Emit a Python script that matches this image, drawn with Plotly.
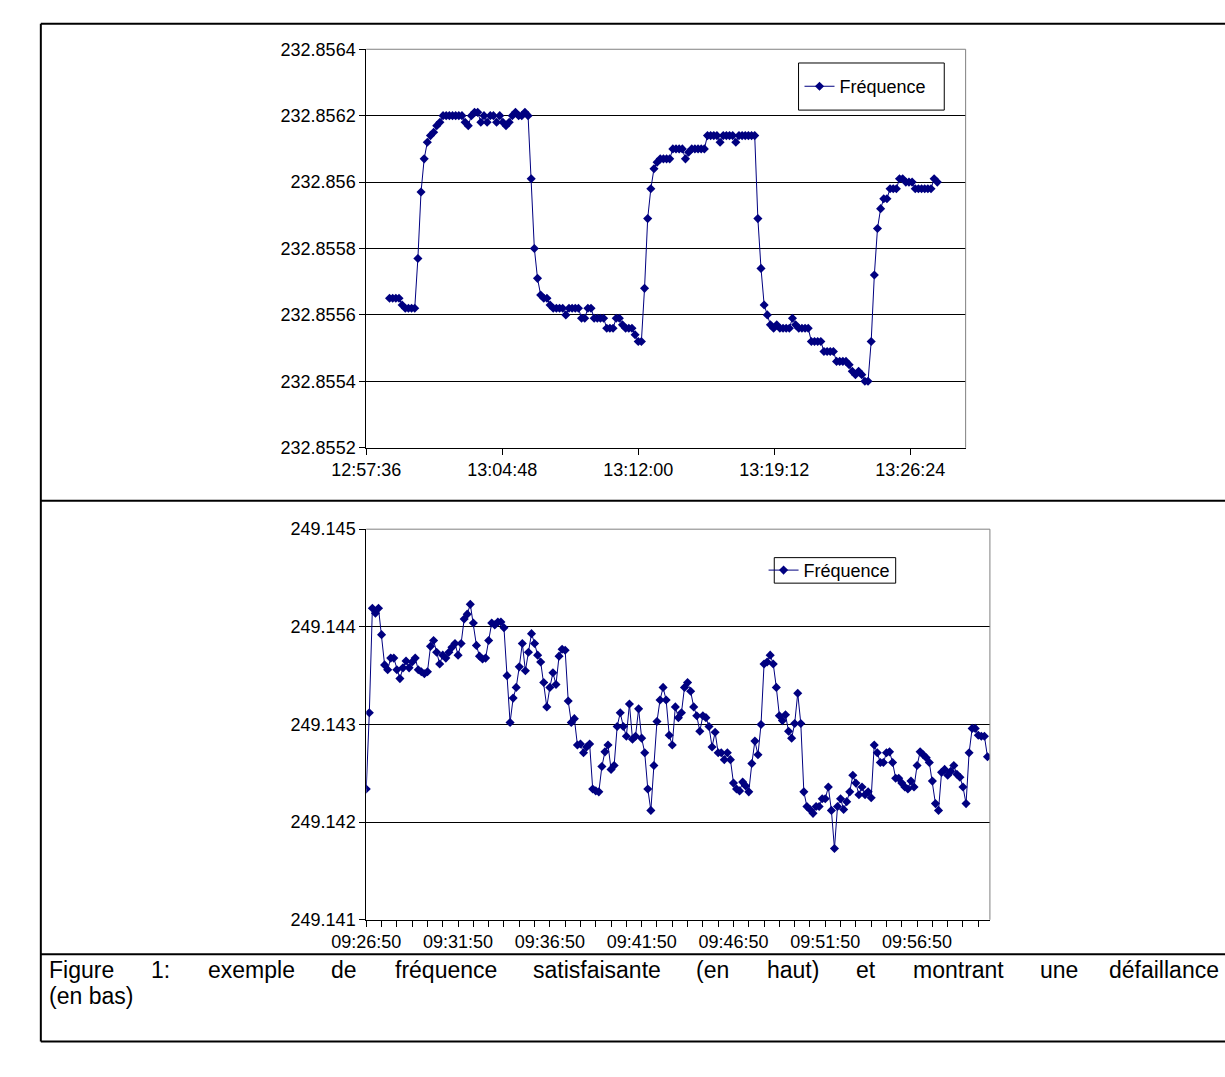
import pandas as pd
import plotly.graph_objects as go

W, H = 1225, 1077

# ---------------- data ----------------
top_start = "2000-01-01 12:58:50"
top_values = [
    232.85565, 232.85565, 232.85565, 232.85565, 232.85563, 232.85562, 232.85562, 232.85562, 232.85562,
    232.85577, 232.85597, 232.85607, 232.85612, 232.85614, 232.85615, 232.85617, 232.85618,
    232.8562, 232.8562, 232.8562, 232.8562, 232.8562, 232.8562, 232.8562, 232.85618, 232.85617, 232.8562,
    232.85621, 232.85621, 232.85618, 232.8562, 232.85618, 232.8562, 232.8562, 232.85618, 232.8562, 232.85618,
    232.85617, 232.85618, 232.8562, 232.85621, 232.8562, 232.8562, 232.85621, 232.8562,
    232.85601, 232.8558, 232.85571, 232.85566, 232.85565, 232.85565, 232.85563, 232.85562, 232.85562, 232.85562,
    232.85562, 232.8556, 232.85562, 232.85562, 232.85562, 232.85562, 232.85559, 232.85559, 232.85562, 232.85562,
    232.85559, 232.85559, 232.85559, 232.85559, 232.85556, 232.85556, 232.85556, 232.85559, 232.85559, 232.85557,
    232.85556, 232.85556, 232.85556, 232.85554, 232.85552, 232.85552,
    232.85568, 232.85589, 232.85598, 232.85604, 232.85606, 232.85607, 232.85607, 232.85607, 232.85607, 232.8561,
    232.8561, 232.8561, 232.8561, 232.85607, 232.85609, 232.8561, 232.8561, 232.8561, 232.8561, 232.8561,
    232.85614, 232.85614, 232.85614, 232.85614, 232.85612, 232.85614, 232.85614, 232.85614, 232.85614, 232.85612,
    232.85614, 232.85614, 232.85614, 232.85614, 232.85614, 232.85614,
    232.85589, 232.85574, 232.85563, 232.8556, 232.85557, 232.85556, 232.85557, 232.85556, 232.85556, 232.85556,
    232.85556, 232.85559, 232.85557, 232.85556, 232.85556, 232.85556, 232.85556, 232.85552, 232.85552, 232.85552,
    232.85552, 232.85549, 232.85549, 232.85549, 232.85549, 232.85546, 232.85546, 232.85546, 232.85546, 232.85545,
    232.85543, 232.85542, 232.85543, 232.85542, 232.8554, 232.8554,
    232.85552, 232.85572, 232.85586, 232.85592, 232.85595, 232.85595, 232.85598, 232.85598, 232.85598, 232.85601,
    232.85601, 232.856, 232.856, 232.856, 232.85598, 232.85598, 232.85598, 232.85598, 232.85598, 232.85598,
    232.85601, 232.856,
]
top_yticks = [232.8552, 232.8554, 232.8556, 232.8558, 232.856, 232.8562, 232.8564]
top_yticklabels = ["232.8552", "232.8554", "232.8556", "232.8558", "232.856", "232.8562", "232.8564"]
top_xrange = ["2000-01-01 12:57:36", "2000-01-01 13:29:20"]
top_xtick0 = "2000-01-01 12:57:36"

bot_start = "2000-01-01 09:26:50"
bot_values = [
    249.14234, 249.14312, 249.14419, 249.14414, 249.14419, 249.14392, 249.14361, 249.14356, 249.14368, 249.14368,
    249.14356, 249.14347, 249.14358, 249.14365, 249.14358, 249.14364, 249.14368, 249.14356, 249.14354, 249.14352,
    249.14354, 249.14380, 249.14386, 249.14374, 249.14362, 249.14371, 249.14368, 249.14374, 249.14379, 249.14383,
    249.14371, 249.14383, 249.14408, 249.14413, 249.14423, 249.14404, 249.14381, 249.14370, 249.14367, 249.14368,
    249.14386, 249.14404, 249.14402, 249.14405, 249.14405, 249.14399, 249.14350, 249.14302, 249.14327, 249.14338,
    249.14359, 249.14383, 249.14355, 249.14374, 249.14393, 249.14383, 249.14371, 249.14364, 249.14343, 249.14318,
    249.14338, 249.14353, 249.14341, 249.14370, 249.14377, 249.14376, 249.14324, 249.14302, 249.14306, 249.14279,
    249.14280, 249.14271, 249.14277, 249.14280, 249.14234, 249.14232, 249.14231, 249.14257, 249.14272, 249.14279,
    249.14254, 249.14258, 249.14298, 249.14312, 249.14298, 249.14288, 249.14321, 249.14285, 249.14288, 249.14316,
    249.14286, 249.14271, 249.14234, 249.14212, 249.14258, 249.14303, 249.14325, 249.14338, 249.14325, 249.14289,
    249.14279, 249.14318, 249.14307, 249.14312, 249.14338, 249.14343, 249.14334, 249.14318, 249.14309, 249.14293,
    249.14309, 249.14307, 249.14298, 249.14277, 249.14292, 249.14271, 249.14271, 249.14264, 249.14271, 249.14264,
    249.14240, 249.14234, 249.14232, 249.14241, 249.14237, 249.14231, 249.14260, 249.14283, 249.14269, 249.14300,
    249.14362, 249.14364, 249.14371, 249.14362, 249.14338, 249.14309, 249.14304, 249.14310, 249.14293, 249.14286,
    249.14301, 249.14332, 249.14301, 249.14231, 249.14216, 249.14213, 249.14209, 249.14216, 249.14216, 249.14224,
    249.14224, 249.14236, 249.14212, 249.14173, 249.14216, 249.14224, 249.14213, 249.14221, 249.14231, 249.14248,
    249.14240, 249.14228, 249.14236, 249.14228, 249.14231, 249.14225, 249.14279, 249.14271, 249.14261, 249.14261,
    249.14271, 249.14272, 249.14261, 249.14245, 249.14245, 249.14240, 249.14236, 249.14234, 249.14242, 249.14236,
    249.14258, 249.14272, 249.14269, 249.14266, 249.14261, 249.14242, 249.14219, 249.14212, 249.14251, 249.14254,
    249.14248, 249.14252, 249.14258, 249.14249, 249.14246, 249.14236, 249.14219, 249.14271, 249.14296, 249.14296,
    249.14289, 249.14288, 249.14288, 249.14267,
]
bot_yticks = [249.141, 249.142, 249.143, 249.144, 249.145]
bot_yticklabels = ["249.141", "249.142", "249.143", "249.144", "249.145"]
bot_xrange = ["2000-01-01 09:26:50", "2000-01-01 10:00:48"]
bot_xtick0 = "2000-01-01 09:26:50"

series_name = "Fréquence"
caption_line1 = "Figure 1: exemple de fréquence satisfaisante (en haut) et montrant une défaillance"
caption_line2 = "(en bas)"

top_times = pd.date_range(top_start, periods=len(top_values), freq="10s")
bot_times = pd.date_range(bot_start, periods=len(bot_values), freq="10s")

# ---------------- helpers ----------------
def X(px):
    return px / W

def Y(py):
    return 1 - py / H

NAVY = "#000080"
FONT = "Liberation Sans, Arial, sans-serif"

fig = go.Figure()
fig.add_trace(go.Scatter(
    x=top_times, y=top_values, mode="lines+markers", name=series_name, showlegend=True,
    line=dict(color=NAVY, width=1), marker=dict(symbol="diamond", size=7, color=NAVY),
    xaxis="x", yaxis="y", legend="legend",
))
fig.add_trace(go.Scatter(
    x=bot_times, y=bot_values, mode="lines+markers", name=series_name, showlegend=True,
    line=dict(color=NAVY, width=1), marker=dict(symbol="diamond", size=7, color=NAVY),
    xaxis="x2", yaxis="y2", legend="legend2",
))

axis_common = dict(showline=True, linecolor="black", linewidth=1, ticks="outside",
                   ticklen=6, tickcolor="black", tickwidth=1, zeroline=False,
                   tickfont=dict(family=FONT, size=18, color="black"))

eps = 1e-9
fig.update_layout(
    width=W, height=H, margin=dict(l=0, r=0, t=0, b=0),
    paper_bgcolor="white", plot_bgcolor="white", showlegend=True,
    font=dict(family=FONT, color="black"),
    xaxis=dict(domain=[X(341), X(958)], anchor="y", type="date", range=top_xrange,
               tick0=top_xtick0, dtick=432000, tickformat="%H:%M:%S", showgrid=False,
               **axis_common),
    yaxis=dict(domain=[Y(446), Y(40)], anchor="x",
               range=[top_yticks[0] - eps, top_yticks[-1] + eps],
               tickmode="array", tickvals=top_yticks, ticktext=top_yticklabels,
               showgrid=True, gridcolor="black", gridwidth=1, **axis_common),
    xaxis2=dict(domain=[X(341), X(983)], anchor="y2", type="date", range=bot_xrange,
                tick0=bot_xtick0, dtick=300000, tickformat="%H:%M:%S", showgrid=False,
                minor=dict(ticks="outside", ticklen=6, tickcolor="black", dtick=50000,
                           tick0=bot_xtick0, showgrid=False),
                **axis_common),
    yaxis2=dict(domain=[Y(927), Y(529)], anchor="x2",
                range=[bot_yticks[0] - 1e-8, bot_yticks[-1] + 1e-8],
                tickmode="array", tickvals=bot_yticks, ticktext=bot_yticklabels,
                showgrid=True, gridcolor="black", gridwidth=1, **axis_common),
    legend=dict(x=X(787), y=Y(78), xanchor="left", yanchor="middle",
                bgcolor="rgba(0,0,0,0)", borderwidth=0,
                font=dict(family=FONT, size=18, color="black")),
    legend2=dict(x=X(750), y=Y(571), xanchor="left", yanchor="middle",
                 bgcolor="rgba(0,0,0,0)", borderwidth=0,
                 font=dict(family=FONT, size=18, color="black")),
)

shapes = []
# document frame (right side runs off the page)
FRAME_L, FRAME_R, FRAME_T, FRAME_B = 6, 1226, 14, 1051
shapes.append(dict(type="line", xref="paper", yref="paper", x0=X(FRAME_L), x1=X(FRAME_L),
                   y0=Y(FRAME_B), y1=Y(FRAME_T), line=dict(color="black", width=2)))
for yy in (FRAME_T, 500, 962, FRAME_B):
    shapes.append(dict(type="line", xref="paper", yref="paper", x0=X(FRAME_L), x1=X(FRAME_R),
                       y0=Y(yy), y1=Y(yy), line=dict(color="black", width=2)))
# plot area borders (gray top/right)
for (l, r, t, b) in ((341, 958, 40, 446), (341, 983, 529, 927)):
    shapes.append(dict(type="line", xref="paper", yref="paper", x0=X(l), x1=X(r), y0=Y(t), y1=Y(t),
                       line=dict(color="#808080", width=1), layer="above"))
    shapes.append(dict(type="line", xref="paper", yref="paper", x0=X(r), x1=X(r), y0=Y(t), y1=Y(b),
                       line=dict(color="#808080", width=1), layer="above"))
# legend boxes
shapes.append(dict(type="rect", xref="paper", yref="paper", x0=X(786), x1=X(936), y0=Y(102), y1=Y(54),
                   line=dict(color="black", width=1)))
shapes.append(dict(type="rect", xref="paper", yref="paper", x0=X(761), x1=X(886), y0=Y(584), y1=Y(558),
                   line=dict(color="black", width=1)))
fig.update_layout(shapes=shapes)

# ---------------- justified caption (line ends with a manual break) ----------------
ARIAL_W = {
    " ": 278, "F": 611, "i": 222, "g": 556, "u": 556, "r": 333, "e": 556, "1": 556, ":": 278,
    "x": 500, "m": 833, "p": 556, "l": 222, "d": 556, "f": 278, "é": 556, "q": 556, "n": 556,
    "c": 500, "s": 500, "a": 556, "t": 278, "(": 333, ")": 333, "h": 556, "o": 556, "b": 556,
}
CAP_SIZE = 23

def text_width(s):
    return sum(ARIAL_W.get(ch, 556) for ch in s) / 1000 * CAP_SIZE

words = caption_line1.split(" ")
word_w = [text_width(w) for w in words]
left, right = 12, 1221
gap = (right - left - sum(word_w)) / (len(words) - 1)
xpos = left
for k, (w, ww) in enumerate(zip(words, word_w)):
    last = k == len(words) - 1
    fig.add_annotation(xref="paper", yref="paper", x=X(right if last else xpos), y=Y(978),
                       xanchor="right" if last else "left", yanchor="middle", text=w,
                       showarrow=False, font=dict(family=FONT, size=CAP_SIZE, color="black"))
    xpos += ww + gap
fig.add_annotation(xref="paper", yref="paper", x=X(left), y=Y(1005), xanchor="left", yanchor="middle",
                   text=caption_line2, showarrow=False, font=dict(family=FONT, size=CAP_SIZE, color="black"))

fig.write_html("out.html")
